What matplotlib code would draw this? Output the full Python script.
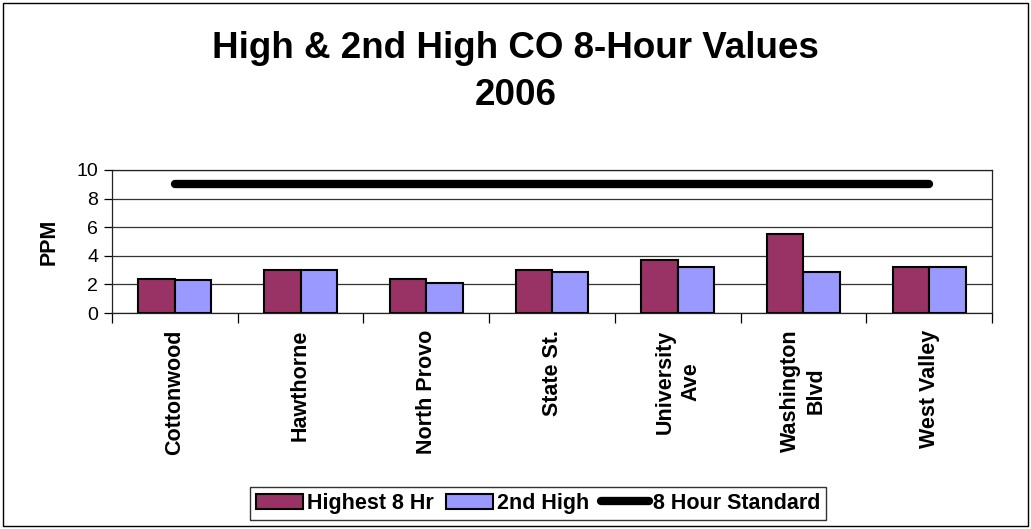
import matplotlib
matplotlib.use("Agg")
import matplotlib.pyplot as plt
import numpy as np
from matplotlib.patches import Rectangle, Patch
from matplotlib.lines import Line2D

plt.rcParams['font.family'] = ['Liberation Sans', 'DejaVu Sans']

sites = ["Cottonwood", "Hawthorne", "North Provo", "State St.",
         "University\nAve", "Washington\nBlvd", "West Valley"]
highest = [2.4, 3.0, 2.4, 3.0, 3.7, 5.5, 3.2]
second = [2.3, 3.0, 2.1, 2.9, 3.2, 2.9, 3.2]
standard = [9, 9, 9, 9, 9, 9, 9]

fig = plt.figure(figsize=(10.31, 5.29), dpi=100)
ax = fig.add_axes([112/1031, (529-313)/529, (992-112)/1031, (313-170)/529])

x = np.arange(len(sites))
w = 0.29
ax.bar(x - w/2, highest, w, color='#993366', edgecolor='black', linewidth=1.5, zorder=3)
ax.bar(x + w/2, second, w, color='#9999FF', edgecolor='black', linewidth=1.5, zorder=3)
ax.plot(x, standard, color='black', linewidth=6, solid_capstyle='round', zorder=4)

ax.set_xlim(-0.5, len(sites) - 0.5)
ax.set_ylim(0, 10)
ax.set_yticks([0, 2, 4, 6, 8, 10])
ax.yaxis.grid(True, color='#333333', linewidth=0.9, zorder=0)
ax.set_axisbelow(True)
ax.tick_params(axis='y', direction='out', length=6, width=0.9, labelsize=14, pad=4)

ax.set_xticks(x)
ax.set_xticklabels(sites, rotation=90, fontsize=15.5, fontweight='bold',
                   ha='center', va='top', multialignment='center', linespacing=1.3)
ax.set_xticks(np.arange(-0.5, len(sites)), minor=True)
ax.tick_params(axis='x', which='major', length=0, pad=12)
ax.tick_params(axis='x', which='minor', direction='out', length=7, width=0.9)

for s in ax.spines.values():
    s.set_linewidth(0.9)
    s.set_color('#222222')

ax.set_ylabel('PPM', fontsize=15.5, fontweight='bold', labelpad=12)

fig.text(0.5, 1 - 72/529, 'High & 2nd High CO 8-Hour Values\n2006',
         ha='center', va='center', fontsize=26.5, fontweight='bold', linespacing=1.45)

handles = [Patch(facecolor='#993366', edgecolor='black', linewidth=1.5),
           Patch(facecolor='#9999FF', edgecolor='black', linewidth=1.5),
           Line2D([0], [0], color='black', linewidth=6, solid_capstyle='round')]
labels = ['Highest 8 Hr', '2nd High', '8 Hour Standard']
leg = fig.legend(handles, labels, loc='center', bbox_to_anchor=(538/1031, 1 - 503.5/529),
                 ncol=3, frameon=True, fancybox=False, shadow=False,
                 prop={'weight': 'bold', 'size': 15.5}, handlelength=2.2,
                 handleheight=0.7, handletextpad=0.18, columnspacing=0.55,
                 borderpad=0.3, borderaxespad=0)
leg.get_frame().set_edgecolor('black')
leg.get_frame().set_linewidth(1.0)

fig.patches.append(Rectangle((3/1031, 3/529), 1025/1031, 523/529, transform=fig.transFigure,
                             fill=False, edgecolor='black', linewidth=1.0))

fig.savefig('out.png', dpi=100)
